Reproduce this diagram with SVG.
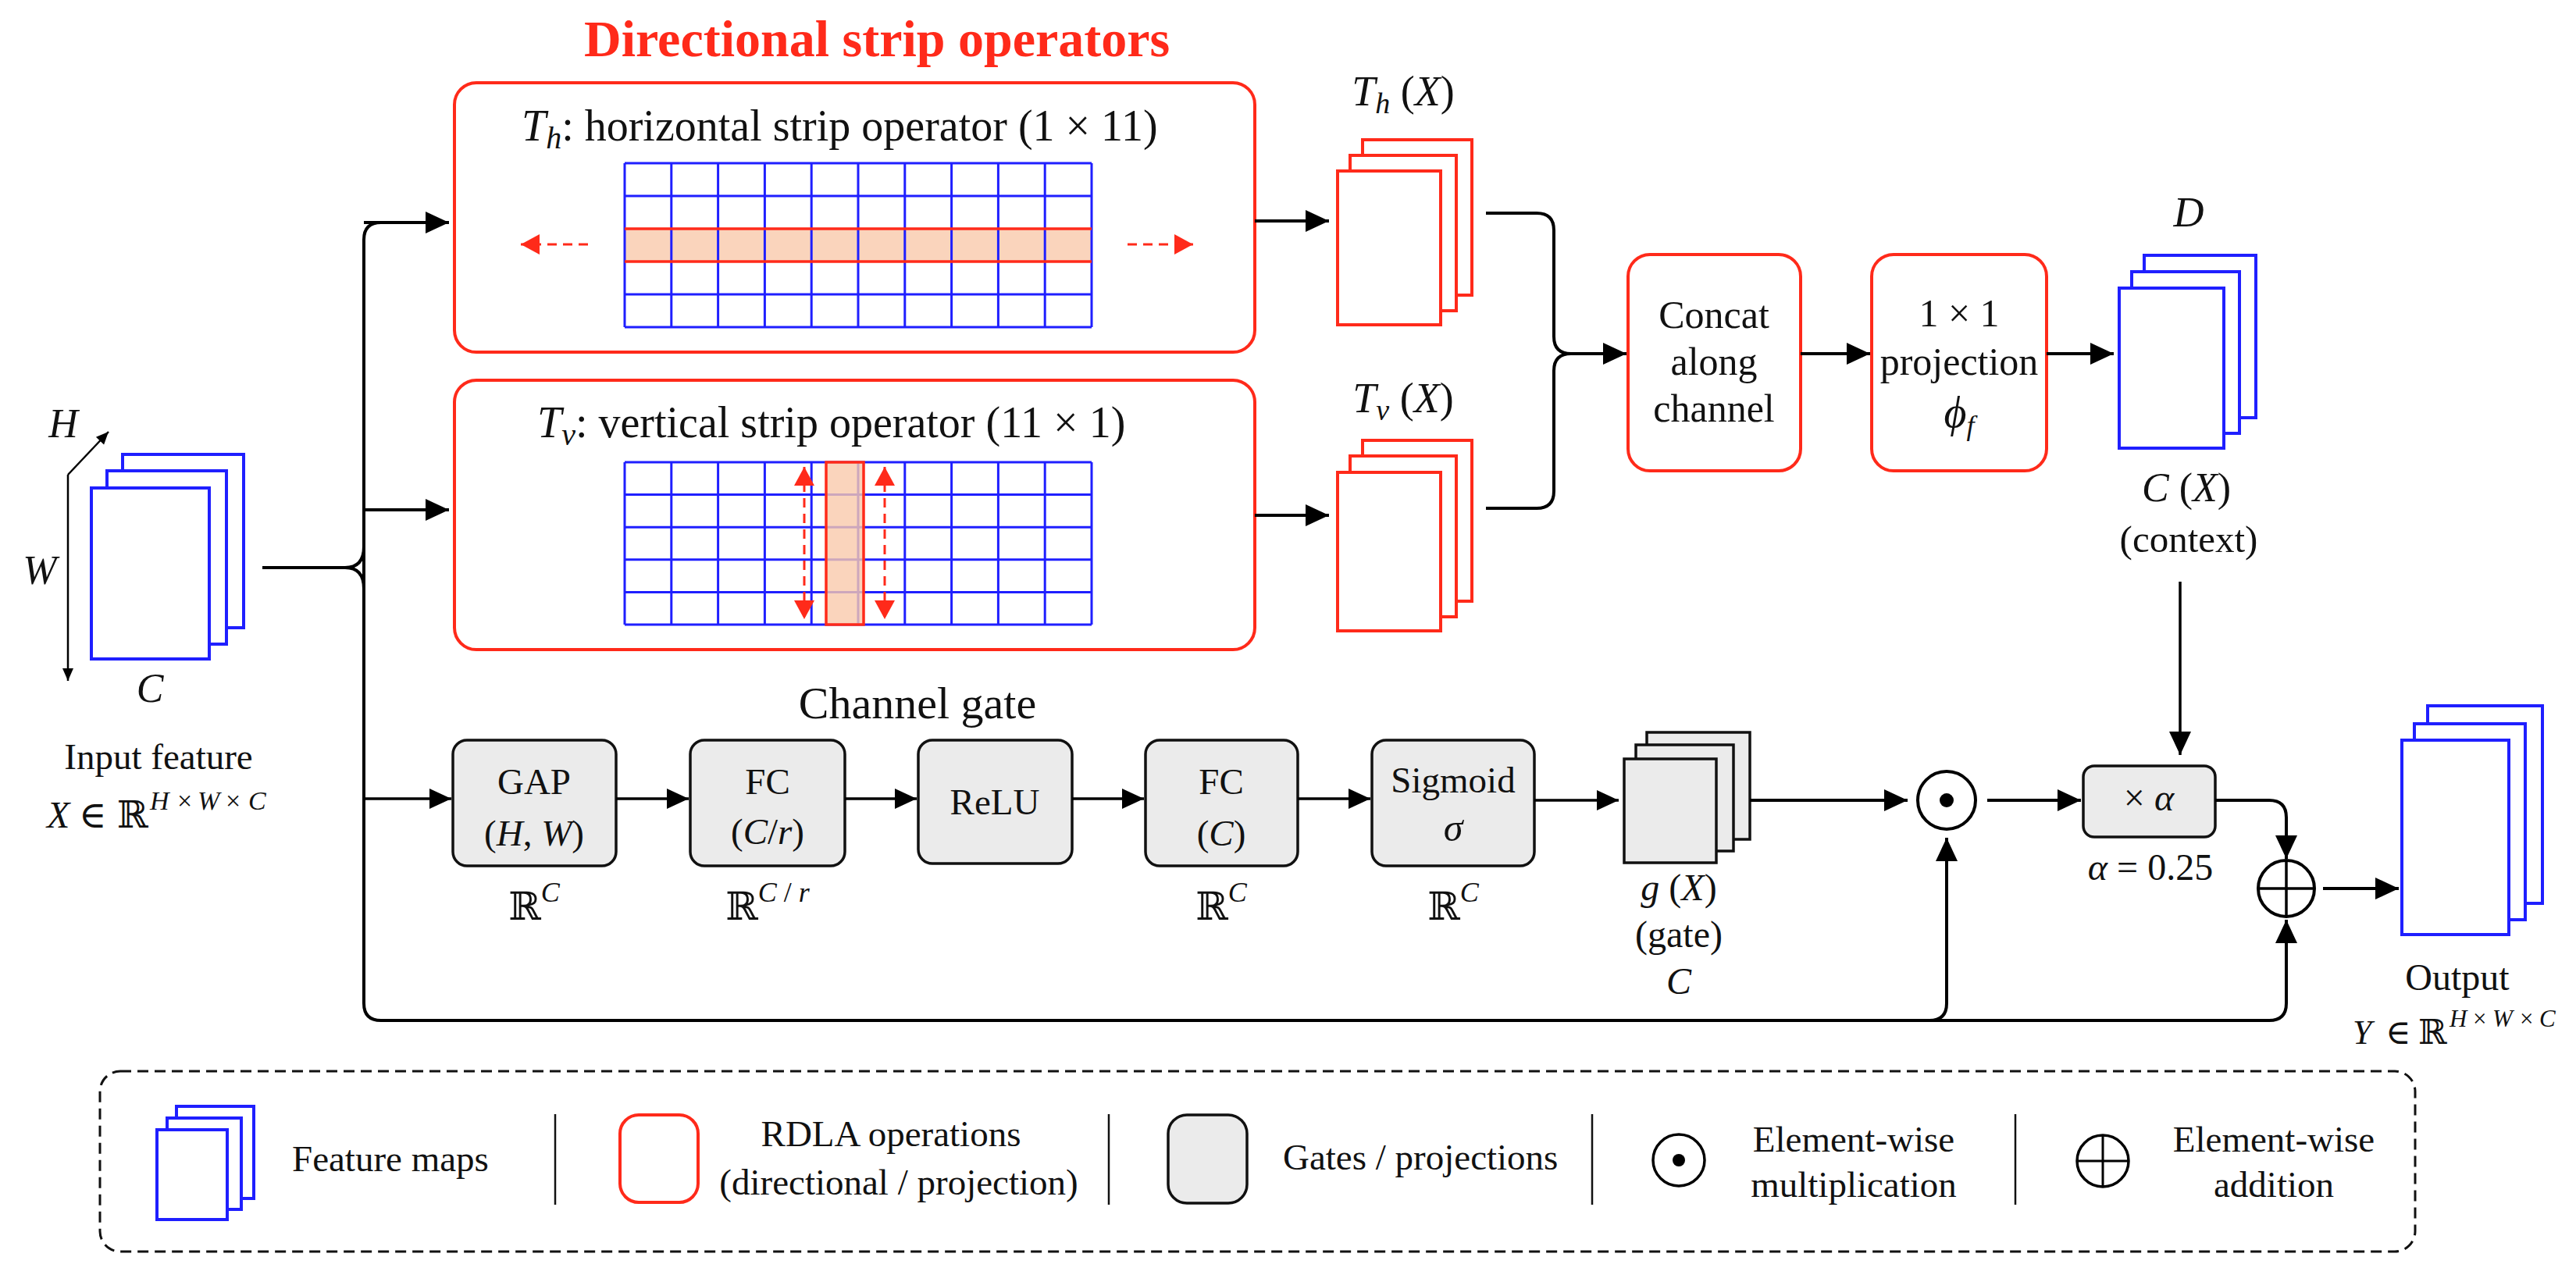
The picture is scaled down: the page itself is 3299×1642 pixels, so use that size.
<svg xmlns="http://www.w3.org/2000/svg" width="3299" height="1642" viewBox="0 0 3299 1642">
<style>
.t{fill:#111}
.i{font-style:italic}
.redbox{fill:#fff;stroke:#ff2a1a;stroke-width:4}
.blue{fill:#fff;stroke:#1f1fff;stroke-width:4}
.redst{fill:#fff;stroke:#ff2a1a;stroke-width:4}
.gray{fill:#ebebeb;stroke:#111;stroke-width:3.5}
.grid{stroke:#1f1fff;stroke-width:3;fill:none}
.conn{fill:none;stroke:#000;stroke-width:4}
.conn3{fill:none;stroke:#000;stroke-width:3.5}
.dash{fill:none;stroke:#ff2a1a;stroke-width:3;stroke-dasharray:12 8}
.hl{fill:#f9c9ab;fill-opacity:0.8}
.sep{stroke:#111;stroke-width:2.5}
</style>
<defs>
<marker id="ah" markerUnits="userSpaceOnUse" markerWidth="30" markerHeight="28" refX="30" refY="14" orient="auto" overflow="visible"><path d="M0,0 L30,14 L0,28 z" fill="#000"/></marker>
<marker id="ahs" markerUnits="userSpaceOnUse" markerWidth="28" markerHeight="26" refX="28" refY="13" orient="auto" overflow="visible"><path d="M0,0 L28,13 L0,26 z" fill="#000"/></marker>
<marker id="ahr" markerUnits="userSpaceOnUse" markerWidth="24" markerHeight="26" refX="24" refY="13" orient="auto-start-reverse" overflow="visible"><path d="M0,0 L24,13 L0,26 z" fill="#ff2a1a"/></marker>
<marker id="aha" markerUnits="userSpaceOnUse" markerWidth="16" markerHeight="14" refX="16" refY="7" orient="auto" overflow="visible"><path d="M0,0 L16,7 L0,14 z" fill="#000"/></marker>
</defs>
<rect width="3299" height="1642" fill="#fff"/>

<g font-family="Liberation Serif, DejaVu Serif, serif">
<text x="748" y="72" font-size="66" font-weight="bold" fill="#ff2a1a">Directional strip operators</text>

<g id="input">
<rect class="blue" x="157" y="582" width="155" height="222"/>
<rect class="blue" x="137" y="603" width="153" height="222"/>
<rect class="blue" x="117" y="625" width="151" height="219"/>
<path d="M87,608 L139,553" stroke="#000" stroke-width="2.5" marker-end="url(#aha)"/>
<path d="M87,608 V872" stroke="#000" stroke-width="2.5" marker-end="url(#aha)"/>
<text class="t i" x="81" y="560" font-size="52" text-anchor="middle">H</text>
<text class="t i" x="51" y="748" font-size="52" text-anchor="middle">W</text>
<text class="t i" x="192" y="899" font-size="52" text-anchor="middle">C</text>
<text class="t" x="203" y="985" font-size="47" text-anchor="middle">Input feature</text>
<text class="t" y="1060" font-size="48"><tspan x="60" class="i">X</tspan><tspan x="101">∈</tspan><tspan x="150">ℝ</tspan><tspan font-size="34"><tspan x="192" y="1037" class="i">H</tspan><tspan x="227">×</tspan><tspan x="253" class="i">W</tspan><tspan x="289">×</tspan><tspan x="318" class="i">C</tspan></tspan></text>
</g>

<g id="horizontal-op">
<rect class="redbox" x="582" y="106" width="1025" height="345" rx="28"/>
<text class="t" x="668" y="180" font-size="56"><tspan class="i">T</tspan><tspan class="i" font-size="40" dy="10">h</tspan><tspan dy="-10">: horizontal strip operator (1 × 11)</tspan></text>
<rect class="hl" x="800" y="293" width="598" height="42"/>
<g class="grid">
<path d="M800,209V419M859.8,209V419M919.6,209V419M979.4,209V419M1039.2,209V419M1099,209V419M1158.8,209V419M1218.6,209V419M1278.4,209V419M1338.2,209V419M1398,209V419"/>
<path d="M800,209H1398M800,251H1398M800,377H1398M800,419H1398"/>
</g>
<path d="M800,293H1398M800,335H1398" stroke="#ff2a1a" stroke-width="3.5"/>
<path class="dash" d="M753,313H667" marker-end="url(#ahr)"/>
<path class="dash" d="M1444,313H1528" marker-end="url(#ahr)"/>
</g>

<g id="vertical-op">
<rect class="redbox" x="582" y="487" width="1025" height="345" rx="28"/>
<text class="t" x="688" y="560" font-size="56"><tspan class="i">T</tspan><tspan class="i" font-size="40" dy="10">v</tspan><tspan dy="-10">: vertical strip operator (11 × 1)</tspan></text>
<g class="grid">
<path d="M800,592V800M859.8,592V800M919.6,592V800M979.4,592V800M1039.2,592V800M1099,592V800M1158.8,592V800M1218.6,592V800M1278.4,592V800M1338.2,592V800M1398,592V800"/>
<path d="M800,592H1398M800,633.6H1398M800,675.2H1398M800,716.8H1398M800,758.4H1398M800,800H1398"/>
</g>
<rect class="hl" x="1058" y="592" width="48" height="208" stroke="#ff2a1a" stroke-width="3.5"/>
<path class="dash" d="M1030,598V793" marker-start="url(#ahr)" marker-end="url(#ahr)"/>
<path class="dash" d="M1133,598V793" marker-start="url(#ahr)" marker-end="url(#ahr)"/>
</g>

<g id="th-out">
<rect class="redst" x="1745" y="179" width="140" height="199"/>
<rect class="redst" x="1729" y="199" width="136" height="199"/>
<rect class="redst" x="1713" y="219" width="132" height="197"/>
<text class="t" x="1797" y="135" font-size="54" text-anchor="middle"><tspan class="i">T</tspan><tspan class="i" font-size="38" dy="10">h</tspan><tspan dy="-10"> (</tspan><tspan class="i">X</tspan>)</text>
</g>

<g id="tv-out">
<rect class="redst" x="1745" y="564" width="140" height="206"/>
<rect class="redst" x="1729" y="584" width="136" height="206"/>
<rect class="redst" x="1713" y="605" width="132" height="203"/>
<text class="t" x="1797" y="528" font-size="54" text-anchor="middle"><tspan class="i">T</tspan><tspan class="i" font-size="38" dy="10">v</tspan><tspan dy="-10"> (</tspan><tspan class="i">X</tspan>)</text>
</g>

<g id="concat">
<rect class="redbox" x="2085" y="326" width="221" height="277" rx="28"/>
<text class="t" x="2195" y="420" font-size="50" text-anchor="middle">Concat</text>
<text class="t" x="2195" y="480" font-size="50" text-anchor="middle">along</text>
<text class="t" x="2195" y="540" font-size="50" text-anchor="middle">channel</text>
</g>

<g id="projection">
<rect class="redbox" x="2397" y="326" width="224" height="277" rx="28"/>
<text class="t" x="2509" y="418" font-size="50" text-anchor="middle">1 × 1</text>
<text class="t" x="2509" y="480" font-size="50" text-anchor="middle">projection</text>
<text class="t" x="2509" y="547" font-size="56" text-anchor="middle"><tspan class="i">ϕ</tspan><tspan class="i" font-size="36" dy="10">f</tspan></text>
</g>

<g id="context">
<rect class="blue" x="2746" y="327" width="143" height="208"/>
<rect class="blue" x="2730" y="348" width="138" height="207"/>
<rect class="blue" x="2714" y="369" width="134" height="205"/>
<text class="t i" x="2803" y="290" font-size="54" text-anchor="middle">D</text>
<text class="t" x="2800" y="642" font-size="52" text-anchor="middle"><tspan class="i">C</tspan> (<tspan class="i">X</tspan>)</text>
<text class="t" x="2803" y="707" font-size="49" text-anchor="middle">(context)</text>
</g>

<text class="t" x="1175" y="920" font-size="58" text-anchor="middle">Channel gate</text>

<g id="gap">
<rect class="gray" x="580" y="948" width="209" height="161" rx="18"/>
<text class="t" x="684" y="1017" font-size="47" text-anchor="middle">GAP</text>
<text class="t" x="684" y="1083" font-size="47" text-anchor="middle">(<tspan class="i">H</tspan>, <tspan class="i">W</tspan>)</text>
<text class="t" x="684" y="1178" font-size="50" text-anchor="middle">ℝ<tspan class="i" font-size="36" dy="-23">C</tspan></text>
</g>
<g id="fc1">
<rect class="gray" x="884" y="948" width="198" height="161" rx="18"/>
<text class="t" x="983" y="1017" font-size="47" text-anchor="middle">FC</text>
<text class="t" x="983" y="1081" font-size="47" text-anchor="middle">(<tspan class="i">C</tspan>/<tspan class="i">r</tspan>)</text>
<text class="t" x="983" y="1178" font-size="50" text-anchor="middle">ℝ<tspan class="i" font-size="36" dy="-23">C</tspan><tspan font-size="36"> / </tspan><tspan class="i" font-size="36">r</tspan></text>
</g>
<g id="relu">
<rect class="gray" x="1176" y="948" width="197" height="158" rx="18"/>
<text class="t" x="1274" y="1043" font-size="47" text-anchor="middle">ReLU</text>
</g>
<g id="fc2">
<rect class="gray" x="1467" y="948" width="195" height="161" rx="18"/>
<text class="t" x="1564" y="1017" font-size="47" text-anchor="middle">FC</text>
<text class="t" x="1564" y="1083" font-size="47" text-anchor="middle">(<tspan class="i">C</tspan>)</text>
<text class="t" x="1564" y="1178" font-size="50" text-anchor="middle">ℝ<tspan class="i" font-size="36" dy="-23">C</tspan></text>
</g>
<g id="sigmoid">
<rect class="gray" x="1757" y="948" width="208" height="161" rx="18"/>
<text class="t" x="1861" y="1015" font-size="47" text-anchor="middle">Sigmoid</text>
<text class="t i" x="1861" y="1077" font-size="50" text-anchor="middle">σ</text>
<text class="t" x="1861" y="1178" font-size="50" text-anchor="middle">ℝ<tspan class="i" font-size="36" dy="-23">C</tspan></text>
</g>

<g id="gate">
<rect class="gray" x="2109" y="938" width="132" height="137"/>
<rect class="gray" x="2095" y="954" width="125" height="136"/>
<rect class="gray" x="2080" y="972" width="118" height="133"/>
<text class="t" x="2150" y="1153" font-size="48" text-anchor="middle"><tspan class="i">g</tspan> (<tspan class="i">X</tspan>)</text>
<text class="t" x="2150" y="1213" font-size="48" text-anchor="middle">(gate)</text>
<text class="t i" x="2150" y="1273" font-size="48" text-anchor="middle">C</text>
</g>

<g id="mult">
<circle cx="2493" cy="1025" r="37" fill="#fff" stroke="#000" stroke-width="4"/>
<circle cx="2493" cy="1025" r="9" fill="#000"/>
</g>

<g id="scale">
<rect class="gray" x="2668" y="981" width="169" height="91" rx="14"/>
<text class="t" x="2752" y="1038" font-size="48" text-anchor="middle">× <tspan class="i">α</tspan></text>
<text class="t" x="2754" y="1127" font-size="48" text-anchor="middle"><tspan class="i">α</tspan> = 0.25</text>
</g>

<g id="add">
<circle cx="2928" cy="1138" r="36" fill="#fff" stroke="#000" stroke-width="4"/>
<path d="M2892,1138H2964M2928,1102V1174" stroke="#000" stroke-width="3.5"/>
</g>

<g id="output">
<rect class="blue" x="3109" y="904" width="147" height="253"/>
<rect class="blue" x="3092" y="927" width="142" height="251"/>
<rect class="blue" x="3076" y="948" width="137" height="249"/>
<text class="t" x="3147" y="1268" font-size="48" text-anchor="middle">Output</text>
<text class="t" y="1337" font-size="44"><tspan x="3013" class="i">Y</tspan><tspan x="3055">∈</tspan><tspan x="3097">ℝ</tspan><tspan font-size="31"><tspan x="3137" y="1315" class="i">H</tspan><tspan x="3167">×</tspan><tspan x="3192" class="i">W</tspan><tspan x="3227">×</tspan><tspan x="3252" class="i">C</tspan></tspan></text>
</g>

<g id="legend">
<rect x="128" y="1372" width="2965" height="231" rx="26" fill="none" stroke="#111" stroke-width="3" stroke-dasharray="14 8"/>
<rect class="blue" x="226" y="1417" width="99" height="118" stroke-width="3.5"/>
<rect class="blue" x="214" y="1432" width="95" height="117" stroke-width="3.5"/>
<rect class="blue" x="201" y="1447" width="90" height="115" stroke-width="3.5"/>
<text class="t" x="374" y="1500" font-size="47">Feature maps</text>
<path class="sep" d="M711,1427V1543M1420,1427V1543M2039,1427V1543M2581,1427V1543"/>
<rect class="redbox" x="794" y="1428" width="100" height="112" rx="24"/>
<text class="t" x="1141" y="1468" font-size="47" text-anchor="middle">RDLA operations</text>
<text class="t" x="1151" y="1530" font-size="47" text-anchor="middle">(directional / projection)</text>
<rect class="gray" x="1496" y="1428" width="101" height="113" rx="24"/>
<text class="t" x="1643" y="1498" font-size="47">Gates / projections</text>
<circle cx="2150" cy="1486" r="33" fill="#fff" stroke="#000" stroke-width="3.5"/>
<circle cx="2150" cy="1486" r="8" fill="#000"/>
<text class="t" x="2374" y="1475" font-size="47" text-anchor="middle">Element-wise</text>
<text class="t" x="2374" y="1533" font-size="47" text-anchor="middle">multiplication</text>
<circle cx="2693" cy="1487" r="33" fill="#fff" stroke="#000" stroke-width="3.5"/>
<path d="M2660,1487H2726M2693,1454V1520" stroke="#000" stroke-width="3"/>
<text class="t" x="2912" y="1475" font-size="47" text-anchor="middle">Element-wise</text>
<text class="t" x="2912" y="1533" font-size="47" text-anchor="middle">addition</text>
</g>
</g>

<g id="connectors">
<path class="conn" d="M336,727H442"/>
<path class="conn" d="M466,700Q466,727 442,727Q466,727 466,754"/>
<path class="conn" d="M573,285H488Q466,285 466,307V1285Q466,1307 488,1307H2906Q2928,1307 2928,1285V1178" marker-end="url(#ah)"/>
<path class="conn" d="M466,285H575" marker-end="url(#ah)"/>
<path class="conn" d="M466,653H575" marker-end="url(#ah)"/>
<path class="conn3" d="M466,1023H578" marker-end="url(#ahs)"/>
<path class="conn" d="M2471,1307Q2493,1307 2493,1285V1073" marker-end="url(#ah)"/>
<path class="conn" d="M1607,283H1702" marker-end="url(#ah)"/>
<path class="conn" d="M1607,660H1702" marker-end="url(#ah)"/>
<path class="conn" d="M1903,273H1968Q1990,273 1990,295V431Q1990,453 2012,453H2083" marker-end="url(#ah)"/>
<path class="conn" d="M1903,651H1968Q1990,651 1990,629V475Q1990,453 2012,453"/>
<path class="conn" d="M2306,453H2395" marker-end="url(#ah)"/>
<path class="conn" d="M2621,453H2707" marker-end="url(#ah)"/>
<path class="conn3" d="M2792,745V967" marker-end="url(#ah)"/>
<path class="conn3" d="M789,1023H882" marker-end="url(#ahs)"/>
<path class="conn3" d="M1082,1023H1174" marker-end="url(#ahs)"/>
<path class="conn3" d="M1373,1023H1465" marker-end="url(#ahs)"/>
<path class="conn3" d="M1662,1023H1755" marker-end="url(#ahs)"/>
<path class="conn3" d="M1965,1025H2073" marker-end="url(#ahs)"/>
<path class="conn" d="M2241,1025H2443" marker-end="url(#ah)"/>
<path class="conn" d="M2545,1025H2665" marker-end="url(#ah)"/>
<path class="conn" d="M2837,1025H2906Q2928,1025 2928,1047V1100" marker-end="url(#ah)"/>
<path class="conn" d="M2975,1138H3072" marker-end="url(#ah)"/>
</g>
</svg>
